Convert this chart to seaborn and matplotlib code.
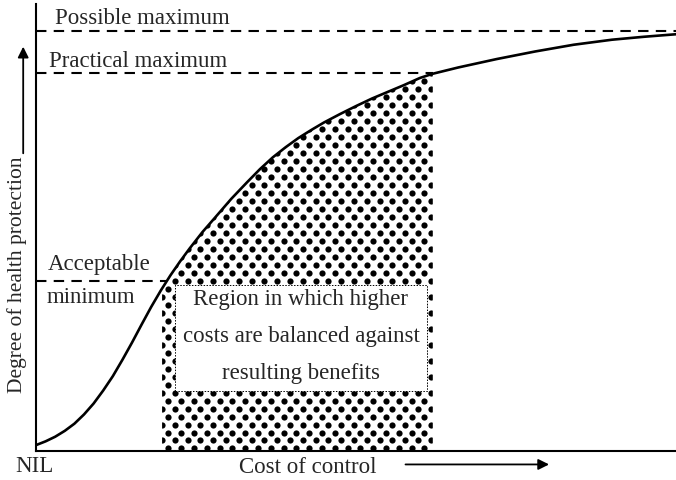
import matplotlib.pyplot as plt
import matplotlib.patches as mpatches
import numpy as np
import pandas as pd
import seaborn as sns

# curve (cost of control vs degree of health protection)
cost = [0, 1.5, 3, 4.5, 6, 7.5, 9, 10.5, 12, 13.5, 15, 16.5, 18, 19.5, 21, 22.5, 24, 26, 28, 30.5,
        33, 35, 37, 39, 41, 43, 45, 47.5, 50, 52.5, 55, 57.5, 60, 62, 66, 72, 78, 84, 90, 95, 100]
protection = [1.4, 2.3, 3.4, 4.8, 6.5, 8.7, 11.3, 14.4, 17.8, 21.7, 25.8, 30.1, 34.3, 38.2, 41.8,
              45.1, 48.2, 52.1, 55.6, 60.0, 64.0, 67.1, 69.9, 72.3, 74.5, 76.4, 78.2, 80.2, 82.1,
              83.9, 85.5, 87.1, 88.8, 89.8, 91.3, 93.3, 95.1, 96.7, 97.9, 98.6, 99.2]

possible_max = 100
practical_max = 90
acceptable_min = 40.5
region_start = 19.7
region_end = 62

level_labels = ["Possible maximum", "Practical maximum", "Acceptable", "minimum"]
region_text = ["Region in which higher", "costs are balanced against", "resulting benefits"]

sns.set_style("white")
plt.rcParams['font.family'] = ['Liberation Serif', 'DejaVu Serif']

fig = plt.figure(figsize=(6.76, 4.81), dpi=100)
ax = fig.add_axes([36 / 676, 29 / 481, 640 / 676, 447 / 481])
ax.set_xlim(0, 100)
ax.set_ylim(0, 106.4)

df = pd.DataFrame({"cost": cost, "protection": protection})

# dotted region under the curve
top_x = [region_start] + [c for c in cost if region_start < c < region_end] + [region_end]
top_y = list(np.interp(top_x, cost, protection))
verts = [(region_start, 0)] + list(zip(top_x, top_y)) + [(region_end, 0)]
region = mpatches.Polygon(verts, closed=True, facecolor='white', edgecolor='none', zorder=1)
ax.add_patch(region)

dot_x, dot_y = [], []
for i, yy in enumerate(np.arange(0.6, 100, 1.9)):
    xs = np.arange(region_start - 1 + 1.0 * (i % 2), region_end + 2, 2.0)
    dot_x.extend(xs)
    dot_y.extend([yy] * len(xs))
sns.scatterplot(x=dot_x, y=dot_y, s=20, color='black', linewidth=0, ax=ax, zorder=2)
ax.collections[-1].set_clip_path(region)

# white text box inside the region
box = mpatches.Rectangle((21.7, 14.3), 39.4, 25.2, facecolor='white', edgecolor='black',
                         lw=0.7, ls=(0, (1.5, 1.5)), zorder=3)
ax.add_patch(box)
for k, line in enumerate(region_text):
    ax.text(41.4, 36.2 - k * 8.7, line, ha='center', va='center', fontsize=16.5, zorder=4)

# reference levels
dash = (0, (5, 3.5))
ax.plot([0, 100], [possible_max, possible_max], color='black', lw=1.5, ls=dash)
ax.plot([0, region_end], [practical_max, practical_max], color='black', lw=1.5, ls=dash)
ax.plot([0, 20.3], [acceptable_min, acceptable_min], color='black', lw=1.5, ls=dash)

sns.lineplot(data=df, x="cost", y="protection", color='black', lw=1.9, ax=ax, zorder=5)

ax.text(3.0, 103.3, level_labels[0], ha='left', va='center', fontsize=16.5)
ax.text(2.0, 92.9, level_labels[1], ha='left', va='center', fontsize=16.5)
ax.text(1.9, 44.6, level_labels[2], ha='left', va='center', fontsize=16.5)
ax.text(1.7, 36.8, level_labels[3], ha='left', va='center', fontsize=16.5)

# axis labels and arrows
ax.text(-0.3, -3.4, "NIL", ha='center', va='center', fontsize=16.5)
ax.text(42.5, -3.7, "Cost of control", ha='center', va='center', fontsize=16.5)
ax.annotate('', xy=(80.6, -3.2), xytext=(57.3, -3.2), annotation_clip=False,
            arrowprops=dict(arrowstyle='-|>', color='black', lw=1.3, mutation_scale=16))
ax.text(-3.0, 42.1, "Degree of health protection", rotation=90, ha='center', va='center', fontsize=15.5)
ax.annotate('', xy=(-2.0, 96.9), xytext=(-2.0, 70.2), annotation_clip=False,
            arrowprops=dict(arrowstyle='-|>', color='black', lw=1.3, mutation_scale=16))

ax.set_xlabel('')
ax.set_ylabel('')
ax.set_xticks([])
ax.set_yticks([])
for side in ['top', 'right']:
    ax.spines[side].set_visible(False)
for side in ['left', 'bottom']:
    ax.spines[side].set_linewidth(1.5)
    ax.spines[side].set_color('black')

fig.savefig('out.png', dpi=100)
